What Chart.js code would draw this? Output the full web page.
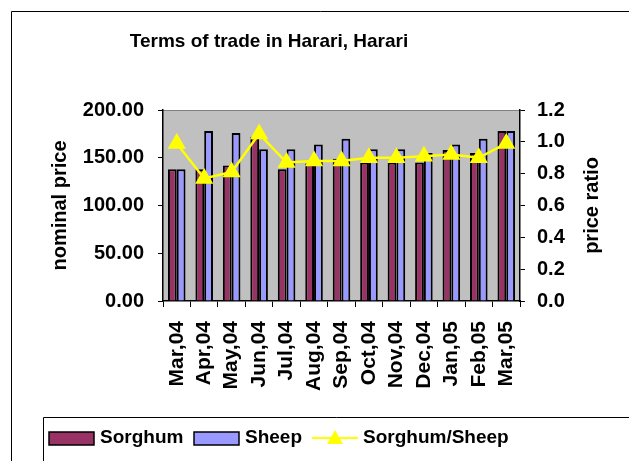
<!DOCTYPE html>
<html>
<head>
<meta charset="utf-8">
<script src="https://cdn.jsdelivr.net/npm/chart.js@4.4.0/dist/chart.umd.min.js"></script>
<style>
  html, body { margin: 0; padding: 0; background: #fff; }
  #wrap { width: 629px; height: 461px; position: relative; }
</style>
</head>
<body>
<div id="wrap"><canvas id="totChart"></canvas></div>
<script>
const months = ['Mar,04', 'Apr,04', 'May,04', 'Jun,04', 'Jul,04', 'Aug,04', 'Sep,04',
  'Oct,04', 'Nov,04', 'Dec,04', 'Jan,05', 'Feb,05', 'Mar,05'];
const sorghum = [138, 138, 142, 172, 138, 144, 149, 145, 145, 145, 158, 155, 178];
const sheep = [138, 178, 176, 159, 159, 164, 170, 159, 159, 155, 164, 170, 178];
const ratio = [0.99, 0.77, 0.81, 1.05, 0.87, 0.88, 0.88, 0.90, 0.90, 0.91, 0.92, 0.90, 0.99];

const chartTitle = 'Terms of trade in Harari, Harari';
const rightTitle = 'price ratio';
const FONT = 'Liberation Sans, Arial, sans-serif';

// frame, plot background, title, right axis title and legend drawn by hand
const excelFrame = {
  id: 'excelFrame',
  beforeDraw(chart) {
    const { ctx, chartArea: a } = chart;
    ctx.save();
    ctx.fillStyle = '#c0c0c0';
    ctx.fillRect(a.left, a.top, a.right - a.left, a.bottom - a.top);
    ctx.strokeStyle = '#808080';
    ctx.lineWidth = 1;
    ctx.beginPath();
    ctx.moveTo(a.left, a.top + 0.5);
    ctx.lineTo(a.right, a.top + 0.5);
    ctx.stroke();
    ctx.restore();
  },
  afterDraw(chart) {
    const ctx = chart.ctx;
    const a = chart.chartArea;
    ctx.save();
    // outer frame
    ctx.strokeStyle = '#000';
    ctx.lineWidth = 1;
    ctx.beginPath();
    ctx.moveTo(11.5, 470);
    ctx.lineTo(11.5, 11.5);
    ctx.lineTo(640, 11.5);
    ctx.stroke();
    // title
    ctx.fillStyle = '#000';
    ctx.font = 'bold 19px ' + FONT;
    ctx.textAlign = 'center';
    ctx.textBaseline = 'middle';
    ctx.fillText(chartTitle, 269, 42);
    // right axis title, reading bottom to top like the left one
    ctx.save();
    ctx.translate(592, (a.top + a.bottom) / 2);
    ctx.rotate(-Math.PI / 2);
    ctx.font = 'bold 20px ' + FONT;
    ctx.fillText(rightTitle, 0, 0);
    ctx.restore();
    // legend box
    ctx.beginPath();
    ctx.moveTo(43.5, 470);
    ctx.lineTo(43.5, 417.5);
    ctx.lineTo(640, 417.5);
    ctx.stroke();

    const ds = chart.data.datasets;
    const cy = 438;
    ctx.textAlign = 'left';
    ctx.font = 'bold 19px ' + FONT;
    // bar swatches
    const swatches = [[49, ds[1]], [194, ds[2]]];
    swatches.forEach(([x, d]) => {
      ctx.fillStyle = d.backgroundColor;
      ctx.fillRect(x, cy - 6, 45, 13);
      ctx.strokeStyle = '#000';
      ctx.lineWidth = 1.5;
      ctx.strokeRect(x, cy - 6, 45, 13);
      ctx.fillStyle = '#000';
      ctx.fillText(d.label, x + 51, cy);
    });
    // line swatch
    const l = ds[0];
    ctx.strokeStyle = l.borderColor;
    ctx.lineWidth = 2;
    ctx.beginPath();
    ctx.moveTo(312, cy);
    ctx.lineTo(358, cy);
    ctx.stroke();
    ctx.fillStyle = l.pointBackgroundColor;
    ctx.beginPath();
    ctx.moveTo(335, cy - 8);
    ctx.lineTo(343, cy + 6);
    ctx.lineTo(327, cy + 6);
    ctx.closePath();
    ctx.fill();
    ctx.fillStyle = '#000';
    ctx.fillText(l.label, 363, cy);
    ctx.restore();
  }
};

const ctx = document.getElementById('totChart').getContext('2d');

new Chart(ctx, {
  type: 'bar',
  data: {
    labels: months,
    datasets: [
      {
        type: 'line',
        label: 'Sorghum/Sheep',
        data: ratio,
        yAxisID: 'y1',
        borderColor: '#ffff00',
        backgroundColor: '#ffff00',
        pointBackgroundColor: '#ffff00',
        pointBorderColor: '#ffff00',
        borderWidth: 2.5,
        pointStyle: 'triangle',
        pointRadius: 8,
        tension: 0,
        order: 0
      },
      {
        label: 'Sorghum',
        data: sorghum,
        yAxisID: 'y',
        backgroundColor: '#993366',
        borderColor: '#000',
        borderWidth: 2,
        categoryPercentage: 0.64,
        barPercentage: 1,
        order: 1
      },
      {
        label: 'Sheep',
        data: sheep,
        yAxisID: 'y',
        backgroundColor: '#9999ff',
        borderColor: '#000',
        borderWidth: 2,
        categoryPercentage: 0.64,
        barPercentage: 1,
        order: 1
      }
    ]
  },
  options: {
    responsive: true,
    maintainAspectRatio: false,
    animation: false,
    layout: { padding: { top: 110, bottom: 50, left: 0, right: 0 } },
    plugins: {
      legend: { display: false },
      title: { display: false },
      tooltip: { enabled: false }
    },
    scales: {
      x: {
        grid: { drawOnChartArea: false, tickLength: 6, color: '#000', tickColor: '#000' },
        border: { color: '#000', width: 1.5 },
        ticks: {
          color: '#000',
          font: { family: FONT, size: 21, weight: 'bold' },
          minRotation: 90,
          maxRotation: 90,
          autoSkip: false,
          padding: 14
        },
        afterFit(scale) { scale.height = 110; }
      },
      y: {
        position: 'left',
        min: 0,
        max: 200,
        grid: { drawOnChartArea: false, tickLength: 5, tickColor: '#000' },
        border: { color: '#000', width: 1.5 },
        ticks: {
          stepSize: 50,
          color: '#000',
          padding: 14,
          font: { family: FONT, size: 20, weight: 'bold' },
          callback: v => v.toFixed(2)
        },
        title: {
          display: true,
          text: 'nominal price',
          color: '#000',
          padding: { top: 48, bottom: 0 },
          font: { family: FONT, size: 20, weight: 'bold' }
        },
        afterFit(scale) { scale.width = 163; }
      },
      y1: {
        position: 'right',
        min: 0,
        max: 1.2,
        grid: { drawOnChartArea: false, tickLength: 5, tickColor: '#000' },
        border: { color: '#000', width: 1.5 },
        ticks: {
          stepSize: 0.2,
          color: '#000',
          padding: 12,
          font: { family: FONT, size: 20, weight: 'bold' },
          callback: v => v.toFixed(1)
        },
        afterFit(scale) { scale.width = 109; }
      }
    }
  },
  plugins: [excelFrame]
});
</script>
</body>
</html>
